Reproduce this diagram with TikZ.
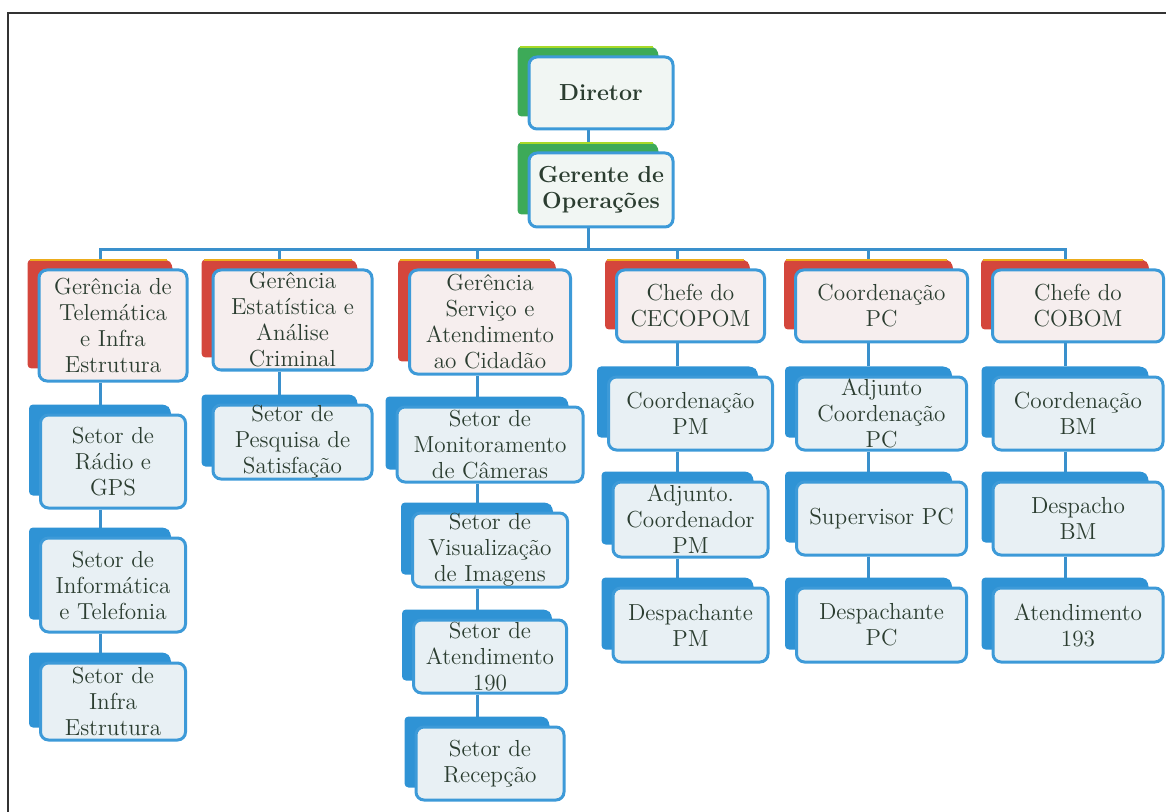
\documentclass[tikz,border=0pt]{standalone}
\usepackage{fontspec}
\usetikzlibrary{calc,backgrounds}
\definecolor{lineblue}{HTML}{3A90CC}
\definecolor{edgeblue}{HTML}{3D9AD8}
\definecolor{txtgreen}{HTML}{2B3D30}
\definecolor{topfill}{HTML}{F1F6F3}
\definecolor{headfill}{HTML}{F6EEEE}
\definecolor{unitfill}{HTML}{E8F0F4}
\definecolor{backgreen}{HTML}{3DAA58}
\definecolor{backred}{HTML}{D4463C}
\definecolor{backblue}{HTML}{2F93D5}

\begin{document}
\begin{tikzpicture}[%
  x=0.5pt,
  y=-0.5pt,
  box/.style={
    draw=edgeblue,
    line width=1.5pt,
    rounded corners=4pt,
    align=center,
    text=txtgreen,
    inner sep=0pt,
    font=\fontsize{11.6}{13}\selectfont},
  topbox/.style={box, fill=topfill, minimum width=72pt, font=\fontsize{11.6}{13}\selectfont\bfseries},
  headbox/.style={box, fill=headfill},
  unitbox/.style={box, fill=unitfill},
  link/.style={draw=lineblue, line width=1.5pt}
  ]
  \useasboundingbox (0,0) rectangle (1166,812);
  \draw[black!80, line width=1.2pt] (8,812) -- (8,13) -- (1166,13);
  %% Nodes
  \node[topbox, minimum height=36pt] (dir) at (601,93) {Diretor};
  \node[topbox, minimum height=37pt] (ger) at (601,190) {Gerente de\\Operações};
  % second level
  \node[headbox, minimum width=74pt, minimum height=55.5pt] (tel) at (113,325.5) {Gerência de\\Telemática\\e Infra\\Estrutura};
  \node[headbox, minimum width=79.5pt, minimum height=50pt] (est) at (292.5,320) {Gerência\\Estatística e\\Análise\\Criminal};
  \node[headbox, minimum width=80.5pt, minimum height=52pt] (ser) at (490,322) {Gerência\\Serviço e\\Atendimento\\ao Cidadão};
  \node[headbox, minimum width=74pt, minimum height=36pt] (cec) at (690.5,306) {Chefe do\\CECOPOM};
  \node[headbox, minimum width=86pt, minimum height=36pt] (cpc) at (881.5,306) {Coordenação\\PC};
  \node[headbox, minimum width=85.5pt, minimum height=36pt] (cob) at (1078,306) {Chefe do\\COBOM};
  % third level
  \node[unitbox, minimum width=72.5pt, minimum height=46.5pt] (rad) at (113,461.5) {Setor de\\Rádio e\\GPS};
  \node[unitbox, minimum width=72.5pt, minimum height=47pt] (inf) at (113,585) {Setor de\\Informática\\e Telefonia};
  \node[unitbox, minimum width=72.5pt, minimum height=38.5pt] (ies) at (113,701.5) {Setor de\\Infra\\Estrutura};
  \node[unitbox, minimum width=79.5pt, minimum height=37pt] (pes) at (292.5,442) {Setor de\\Pesquisa de\\Satisfação};
  \node[unitbox, minimum width=93pt, minimum height=37.5pt] (mon) at (490,444.5) {Setor de\\Monitoramento\\de Câmeras};
  \node[unitbox, minimum width=77.5pt, minimum height=37pt] (vis) at (490,550) {Setor de\\Visualização\\de Imagens};
  \node[unitbox, minimum width=76.5pt, minimum height=36.5pt] (ate) at (490,656.5) {Setor de\\Atendimento\\190};
  \node[unitbox, minimum width=74pt, minimum height=36.5pt] (rec) at (490,763.5) {Setor de\\Recepção};
  \node[unitbox, minimum width=82pt, minimum height=36.5pt] (cpm) at (690.5,413.5) {Coordenação\\PM};
  \node[unitbox, minimum width=77.5pt, minimum height=37.5pt] (adj) at (690.5,519.5) {Adjunto.\\Coordenador\\PM};
  \node[unitbox, minimum width=77.5pt, minimum height=37pt] (dpm) at (690.5,625) {Despachante\\PM};
  \node[unitbox, minimum width=85pt, minimum height=36.5pt] (apc) at (881.5,413.5) {Adjunto\\Coordenação\\PC};
  \node[unitbox, minimum width=85pt, minimum height=36.5pt] (sup) at (881.5,518.5) {Supervisor PC};
  \node[unitbox, minimum width=85pt, minimum height=37pt] (dpc) at (881.5,625) {Despachante\\PC};
  \node[unitbox, minimum width=85pt, minimum height=36.5pt] (cbm) at (1078,413.5) {Coordenação\\BM};
  \node[unitbox, minimum width=85pt, minimum height=36.5pt] (dbm) at (1078,518.5) {Despacho\\BM};
  \node[unitbox, minimum width=85pt, minimum height=37pt] (atd) at (1078,625) {Atendimento\\193};
  \begin{pgfonlayer}{background}
    %% Edges
    \foreach \n in {tel,est,ser,cec,cpc,cob}
      \draw[link] ($(ger.south)+(-13,0)$) -- ++(0,21) -| ($(\n.north)+(-13,-9)$);
    \foreach \a/\b in {dir/ger,tel/rad,rad/inf,inf/ies,est/pes,ser/mon,mon/vis,vis/ate,ate/rec,
                       cec/cpm,cpm/adj,adj/dpm,cpc/apc,apc/sup,sup/dpc,cob/cbm,cbm/dbm,dbm/atd}
      \draw[link] ($(\a.south)+(-13,0)$) -- ($(\b.north)+(-13,-9)$);
    %% Back tabs
    \foreach \n/\c in {dir/backgreen,ger/backgreen,
                       tel/backred,est/backred,ser/backred,cec/backred,cpc/backred,cob/backred,
                       rad/backblue,inf/backblue,ies/backblue,pes/backblue,mon/backblue,vis/backblue,
                       ate/backblue,rec/backblue,cpm/backblue,adj/backblue,dpm/backblue,apc/backblue,
                       sup/backblue,dpc/backblue,cbm/backblue,dbm/backblue,atd/backblue}
      \fill[\c, rounded corners=2pt] ($(\n.north west)+(-10,-9)$) -- ($(\n.north east)+(-21,-9)$)
        -- ($(\n.north east)+(-16,-4)$) -- ($(\n.south east)+(-16,-14)$)
        -- ($(\n.south west)+(-10,-14)$) -- cycle;
    % light top edge on the upper tabs
    \foreach \n/\c in {dir/backgreen,ger/backgreen,tel/backred,est/backred,ser/backred,
                       cec/backred,cpc/backred,cob/backred}
      \draw[\c!45!yellow, line width=1pt] ($(\n.north west)+(-8,-8)$) -- ($(\n.north east)+(-22,-8)$);
  \end{pgfonlayer}
\end{tikzpicture}
\end{document}
